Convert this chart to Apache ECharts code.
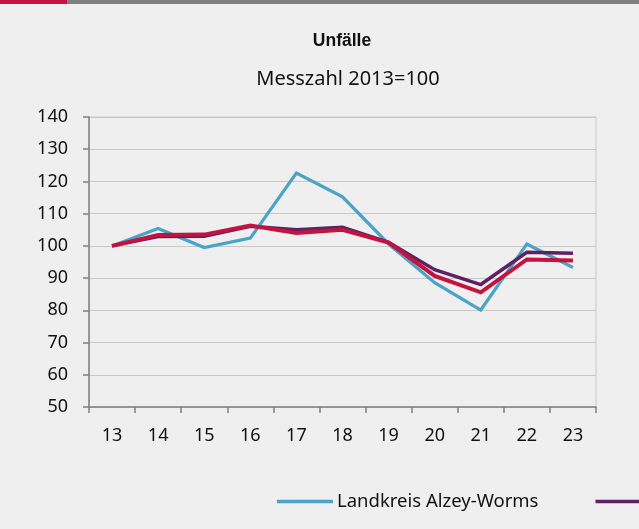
<!DOCTYPE html>
<html><head><meta charset="utf-8">
<script src="https://cdn.jsdelivr.net/npm/echarts@6/dist/echarts.min.js"></script>
<style>html,body{margin:0;padding:0;background:#eeefee;}#c{width:639px;height:529px;}</style>
</head><body><div id="c"></div>
<script>
const categories = ['13','14','15','16','17','18','19','20','21','22','23'];
const seriesNames = ['Landkreis Alzey-Worms','Rheinland-Pfalz','Deutschland'];
const alzeyWorms = [100,105.4,99.5,102.4,122.6,115.2,100.6,88.6,80.1,100.6,93.3];
const rheinlandPfalz = [100,102.9,103.0,106.1,105.0,105.8,101.1,92.6,88.0,98.0,97.7];
const deutschland = [100,103.4,103.5,106.3,104.0,105.0,101.0,90.7,85.6,95.8,95.5];
const yTicks = {min:50, max:140, interval:10};

const colors = ['#4ba3c7','#5f2164','#c3143f'];
const widths = [3.2, 3.5, 4];
const chart = echarts.init(document.getElementById('c'));
const font = '"Noto Sans", "Open Sans", sans-serif';
chart.setOption({
  backgroundColor:'#eeefee',
  animation:false,
  title:[
    {text:'Unfälle', left:337, top:27, textAlign:'center', textStyle:{fontFamily:'"Liberation Sans", Arial, sans-serif', fontWeight:'bold', fontSize:17.5, color:'#111'}},
    {text:'Messzahl 2013=100', left:343, top:64, textAlign:'center', textStyle:{fontFamily:font, fontWeight:'normal', fontSize:20, color:'#111'}}
  ],
  graphic:[
    {type:'rect', shape:{x:0,y:0,width:67,height:4}, style:{fill:'#c3143f'}},
    {type:'rect', shape:{x:67,y:0,width:572,height:4}, style:{fill:'#808080'}}
  ],
  grid:{left:89, right:43, top:117, bottom:122, show:true, borderColor:'#c8c8c8', borderWidth:1, backgroundColor:'transparent'},
  legend:{left:272, top:487, width:2000, itemWidth:56, itemHeight:3.5, itemGap:57, icon:'rect',
    textStyle:{fontFamily:font, fontSize:18.5, color:'#111', padding:[0,0,0,-1]},
    data:seriesNames.map((n,i)=>({name:n, itemStyle:{color:colors[i]}}))},
  xAxis:{type:'category', data:categories, boundaryGap:true,
    axisLine:{lineStyle:{color:'#808080', width:1.5}},
    axisTick:{show:true, length:6, lineStyle:{color:'#808080', width:1.5}},
    axisLabel:{fontFamily:font, fontSize:18, color:'#111', margin:20},
    splitLine:{show:false}},
  yAxis:{type:'value', min:yTicks.min, max:yTicks.max, interval:yTicks.interval,
    axisLine:{show:true, lineStyle:{color:'#808080', width:1.5}},
    axisTick:{show:true, length:6, lineStyle:{color:'#808080', width:1.5}},
    axisLabel:{fontFamily:font, fontSize:18, color:'#111', margin:21},
    splitLine:{lineStyle:{color:'#c8c8c8', width:1}}},
  series:[alzeyWorms, rheinlandPfalz, deutschland].map((d,i)=>({
    name:seriesNames[i], type:'line', data:d, symbol:'none', smooth:false,
    lineStyle:{color:colors[i], width:widths[i], join:'miter'}, itemStyle:{color:colors[i]}
  }))
});
</script></body></html>
